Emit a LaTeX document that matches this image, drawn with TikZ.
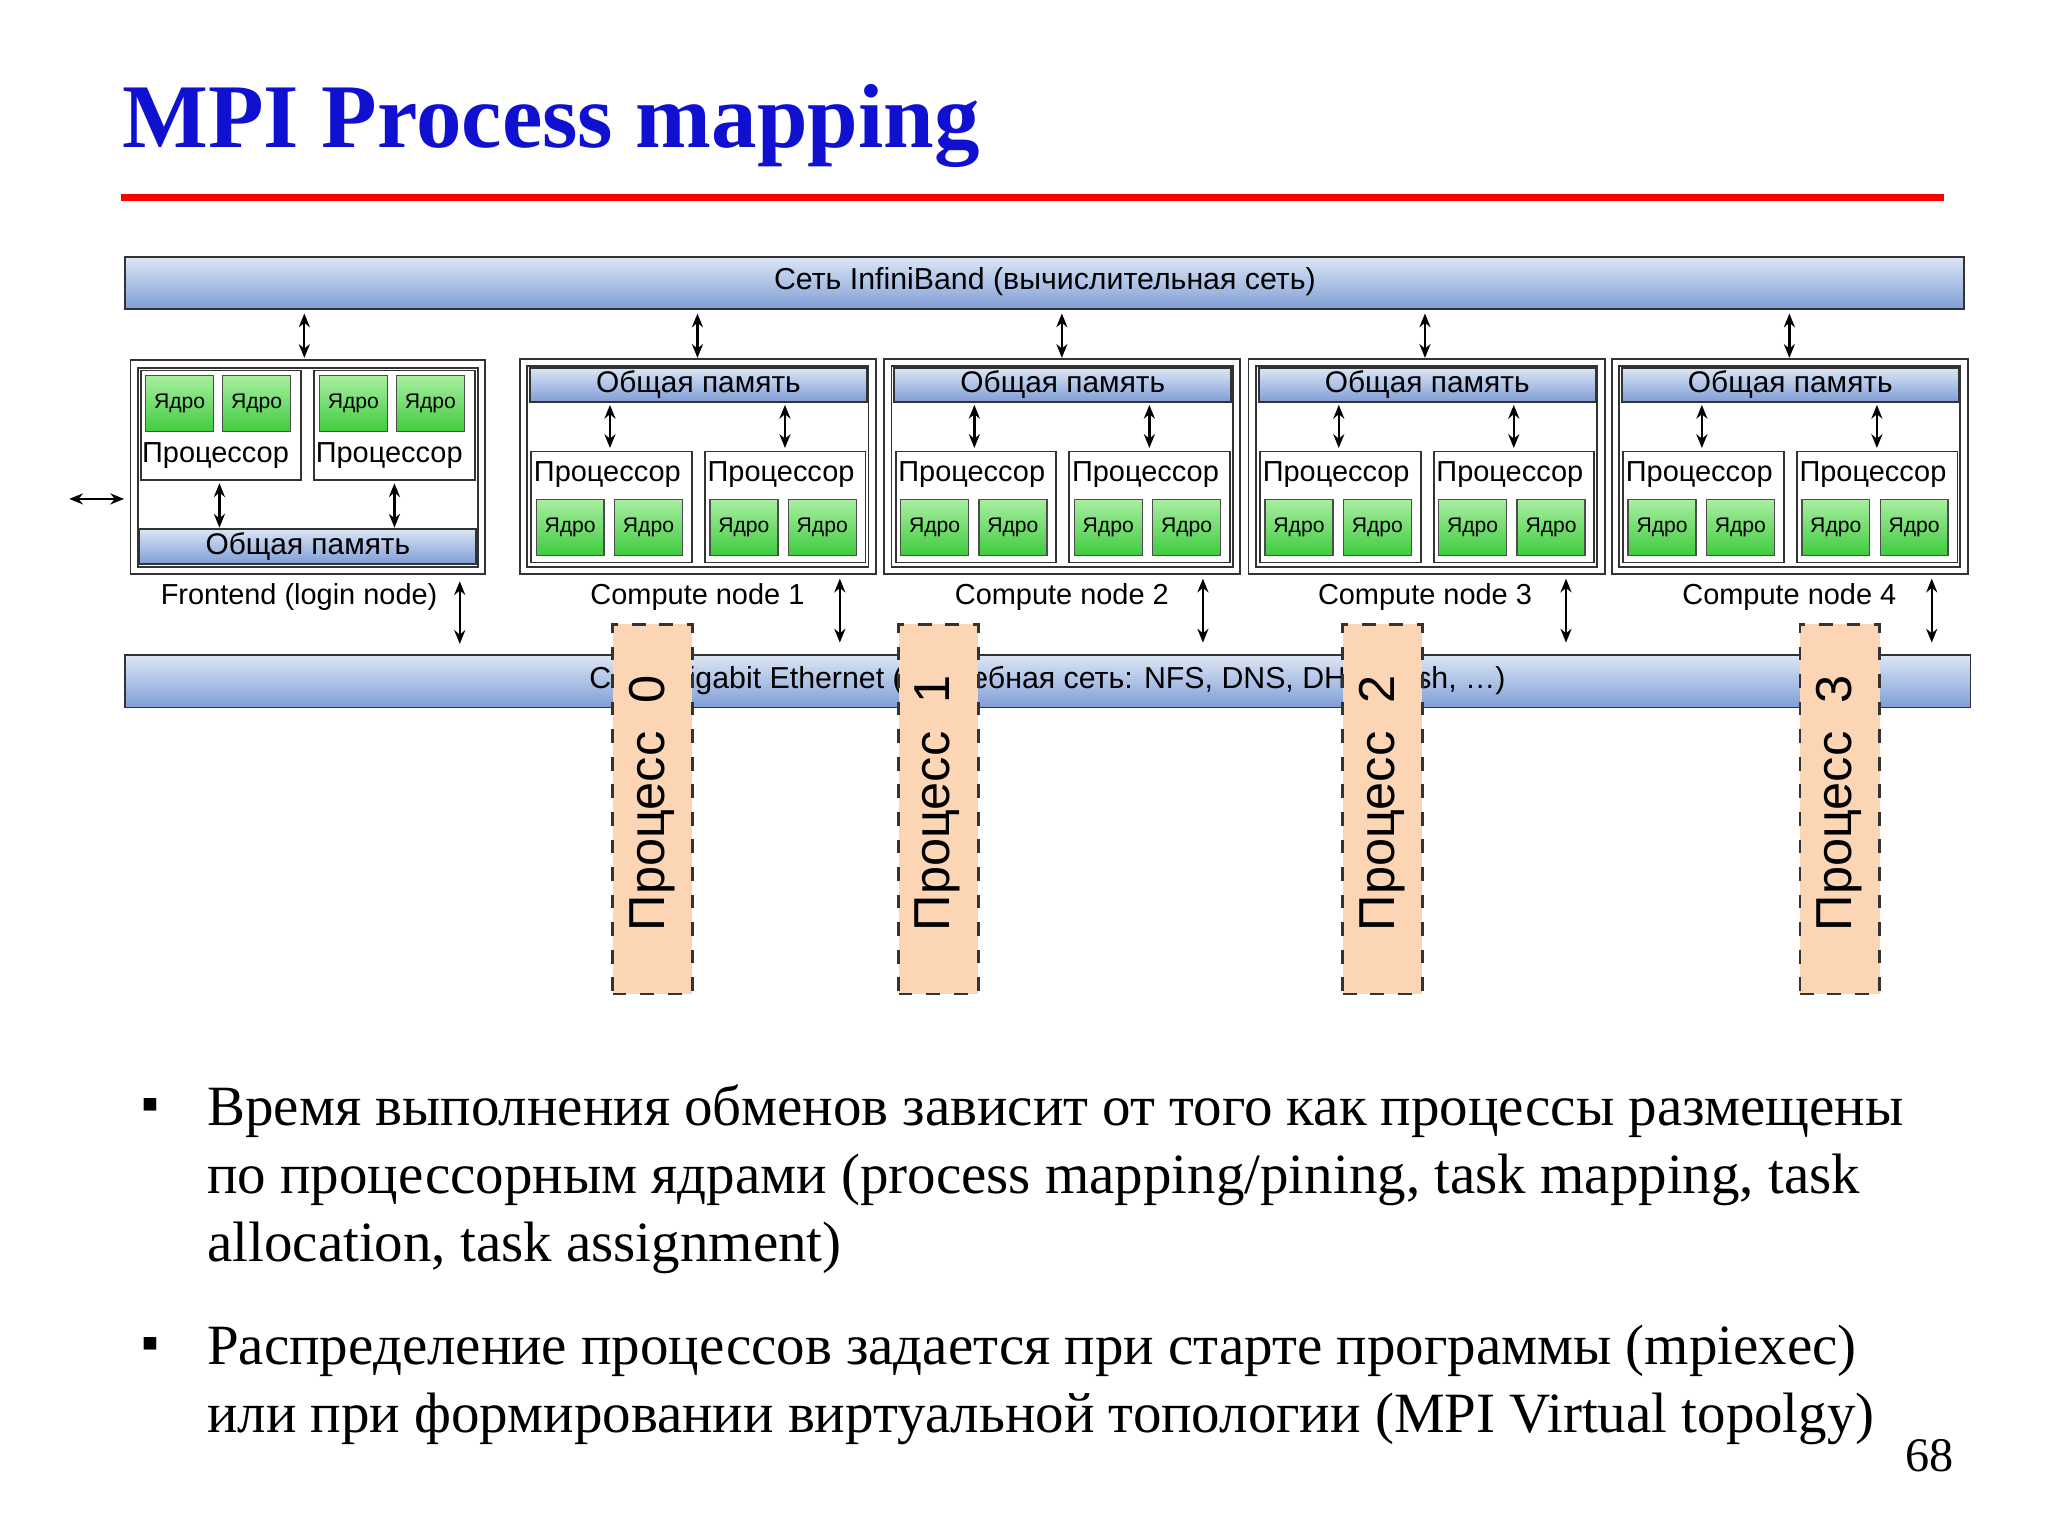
\documentclass[tikz,border=0pt]{standalone}
\usepackage{fontspec}
\setmainfont{Liberation Serif}
\newfontfamily\dsans{Liberation Sans}
\usetikzlibrary{arrows.meta}
\definecolor{tblue}{HTML}{1010D0}
\definecolor{barT}{HTML}{DCE6F5}
\definecolor{barB}{HTML}{7F9ED6}
\definecolor{coreT}{HTML}{A8EFA0}
\definecolor{coreB}{HTML}{3FCB3F}
\definecolor{peach}{HTML}{FCD5B4}
\newcommand{\fs}[1]{\fontsize{#1}{#1}\selectfont}
\tikzset{
 sz/.style 2 args={minimum width=#1*0.01cm,minimum height=#2*0.01cm},
 bar/.style={draw=black!80,line width=0.4pt,top color=barT,bottom color=barB,inner sep=0pt,font=\dsans\fs{6.5}},
 core/.style={draw=black!70,line width=0.3pt,top color=coreT,bottom color=coreB,inner sep=0pt,font=\dsans\fs{4.6}},
 cpu/.style={draw=black!80,line width=0.4pt,fill=white,inner sep=0pt},
 outerbox/.style={draw=black!80,line width=0.4pt,double=white,double distance=1.2pt,inner sep=0pt},
 dar/.style={{Stealth[length=3pt,width=2.4pt]}-{Stealth[length=3pt,width=2.4pt]},line width=0.5pt},
 lbl/.style={font=\dsans\fs{6.3},inner sep=0pt},
 proc/.style={draw=black!80,dashed,line width=0.6pt,fill=peach,inner sep=0pt},
 btxt/.style={anchor=base west,inner sep=0pt,font=\fs{12.4}}
}
\begin{document}
\begin{tikzpicture}[x=0.01cm,y=-0.01cm]
\useasboundingbox[fill=white] (0,0) rectangle (1568,1176);
\node[anchor=base west,inner sep=0pt,text=tblue,font=\bfseries\fs{19.8}] (title) at (93,113) {MPI Process mapping};
\draw[red,line width=1.5pt] (93,151) coordinate (r1) -- (1488,151) coordinate (r2);
% InfiniBand
\node[bar,sz={1408}{40},anchor=north west] (ib) at (95,196) {};
\node[lbl,font=\dsans\fs{6.6}] (ibt) at (800,216) {Сеть InfiniBand (вычислительная сеть)};
% Ethernet
\node[bar,sz={1413}{40},anchor=north west] (eth) at (95,501) {};
\node[lbl,font=\dsans\fs{6.6}] (etht) at (802,521) {Сеть Gigabit Ethernet (служебная сеть: NFS, DNS, DHCP, ssh, …)};
% Frontend
\node[outerbox,sz={266}{158},anchor=north west] (fe) at (102,278) {};
\foreach \i/\ox in {1/107,2/240}{
  \node[cpu,sz={123}{84},anchor=north west] (fcpu\i) at (\ox,283) {};
  \node[core,sz={52}{43},anchor=north west] (fca\i) at (\ox+4,287) {Ядро};
  \node[core,sz={52}{43},anchor=north west] (fcb\i) at (\ox+63,287) {Ядро};
  \node[lbl] (fpt\i) at (\ox+58,349) {Процессор};
}
\node[bar,sz={258}{27},anchor=north west] (fmem) at (106,404) {Общая память};
\coordinate (fa1) at (168,370); \coordinate (fa2) at (302,370);
\draw[dar] (fa1) -- (fa1|-fmem.north);
\draw[dar] (fa2) -- (fa2|-fmem.north);
\node[lbl] (fel) at (229,457) {Frontend (login node)};
\coordinate (ib0) at (233,240);
\draw[dar] (ib0) -- (233,274);
\coordinate (lw) at (53,382);
\draw[dar] (lw) -- (95,382);
\draw[dar] (352,445) coordinate (fe1) -- (352,493);
% Compute nodes
\foreach \n/\ox/\ax/\ex in {1/400/534/643,2/679/813/921,3/958/1091/1199,4/1236/1370/1479}{
  \node[outerbox,sz={267}{159},anchor=north west] (cn\n) at (\ox,277) {};
  \node[bar,sz={258}{26},anchor=north west] (cm\n) at (\ox+5,281) {Общая память};
  \foreach \j/\px in {1/6,2/139}{
    \node[cpu,sz={123}{85},anchor=north west] (cp\n\j) at (\ox+\px,345) {};
    \node[lbl] (cpt\n\j) at (\ox+\px+59,363) {Процессор};
    \node[core,sz={52}{43},anchor=north west] (cca\n\j) at (\ox+\px+4,382) {Ядро};
    \node[core,sz={52}{43},anchor=north west] (ccb\n\j) at (\ox+\px+64,382) {Ядро};
  }
  \draw[dar] (\ox+67,310) -- (\ox+67,343);
  \draw[dar] (\ox+201,310) -- (\ox+201,343);
  \draw[dar] (\ax,240) -- (\ax,274);
  \draw[dar] (\ex,443) -- (\ex,492);
  \node[lbl] (cl\n) at (\ax,457) {Compute node \n};
}
% Processes
\foreach \k/\px in {0/468,1/687,2/1027,3/1377}{
  \node[proc,sz={61}{283},anchor=north west] (pr\k) at (\px,477) {};
  \node[rotate=90,font=\dsans\fs{11},inner sep=0pt] (prt\k) at (\px+31,615) {Процесс\ \ \k};
}
% Bullets
\node[anchor=base west,inner sep=0pt,font=\dsans\fs{11}] (b1) at (108,858) {▪};
\node[anchor=base west,inner sep=0pt,font=\dsans\fs{11}] (b2) at (108,1041) {▪};
\node[btxt] (l1) at (158,862) {Время выполнения обменов зависит от того как процессы размещены};
\node[btxt] (l2) at (158,914) {по процессорным ядрами (process mapping/pining, task mapping, task};
\node[btxt] (l3) at (158,966) {allocation, task assignment)};
\node[btxt] (l4) at (158,1045) {Распределение процессов задается при старте программы (mpiexec)};
\node[btxt] (l5) at (158,1097) {или при формировании виртуальной топологии (MPI Virtual topolgy)};
\node[anchor=base west,inner sep=0pt,font=\fs{10.5}] (pg) at (1458,1127) {68};
\end{tikzpicture}
\end{document}
